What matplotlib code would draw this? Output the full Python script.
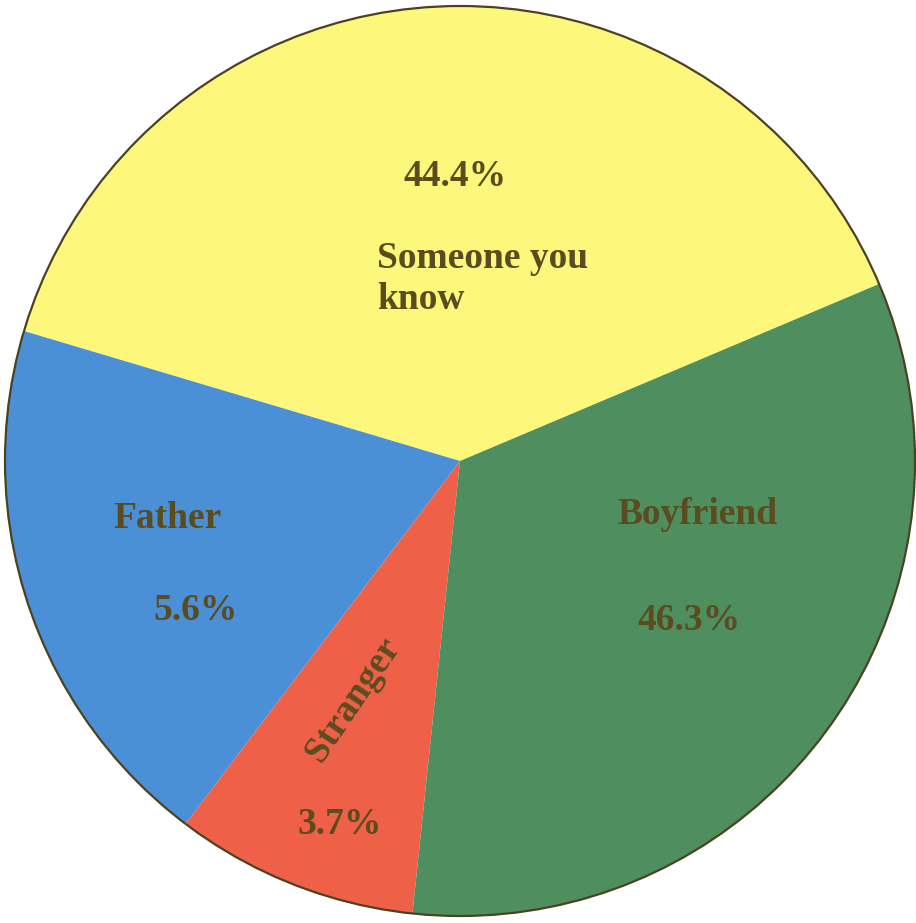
import matplotlib
matplotlib.use("Agg")
from matplotlib import pyplot as plt
from matplotlib.patches import Circle

# wedge sizes as drawn in the picture (degrees of the disc)
names = ["Someone you\nknow", "Father", "Stranger", "Boyfriend"]
sizes = [140.5, 69.5, 31.1, 118.9]
pct_labels = ["44.4%", "5.6%", "3.7%", "46.3%"]
colors = ["#fdf87c", "#4b8fd6", "#ef6049", "#4f8f5f"]

W, H = 916, 923
fig = plt.figure(figsize=(W/100, H/100), dpi=100)
ax = fig.add_axes([0, 0, 1, 1])

cx, cy, r = 460, H - 461, 455
ax.pie(sizes, colors=colors, startangle=22.9, counterclock=True,
       center=(cx, cy), radius=r, frame=True,
       wedgeprops=dict(linewidth=0.6, edgecolor="none", antialiased=True))
ax.add_patch(Circle((cx, cy), r, fill=False, edgecolor="#4a4220", linewidth=1.6))
ax.set_xlim(0, W)
ax.set_ylim(0, H)
ax.set_aspect("equal")
ax.axis("off")

tc = "#5b4c20"
font = dict(family="Liberation Serif", weight="bold", size=27, color=tc)

def px(x, y):
    return x, H - y

# label positions in pixels of the reference
ax.text(*px(455, 177), pct_labels[0], ha="center", va="center", **font)
ax.text(*px(377, 279), names[0], ha="left", va="center", linespacing=1.2, **font)
ax.text(*px(168, 518), names[1], ha="center", va="center", **font)
ax.text(*px(196, 610), pct_labels[1], ha="center", va="center", **font)
ax.text(*px(353, 700), names[2], ha="center", va="center", rotation=56, **font)
ax.text(*px(340, 825), pct_labels[2], ha="center", va="center", **font)
ax.text(*px(697, 515), names[3], ha="center", va="center", **font)
ax.text(*px(689, 620), pct_labels[3], ha="center", va="center", **font)

plt.savefig("out.png", dpi=100)
